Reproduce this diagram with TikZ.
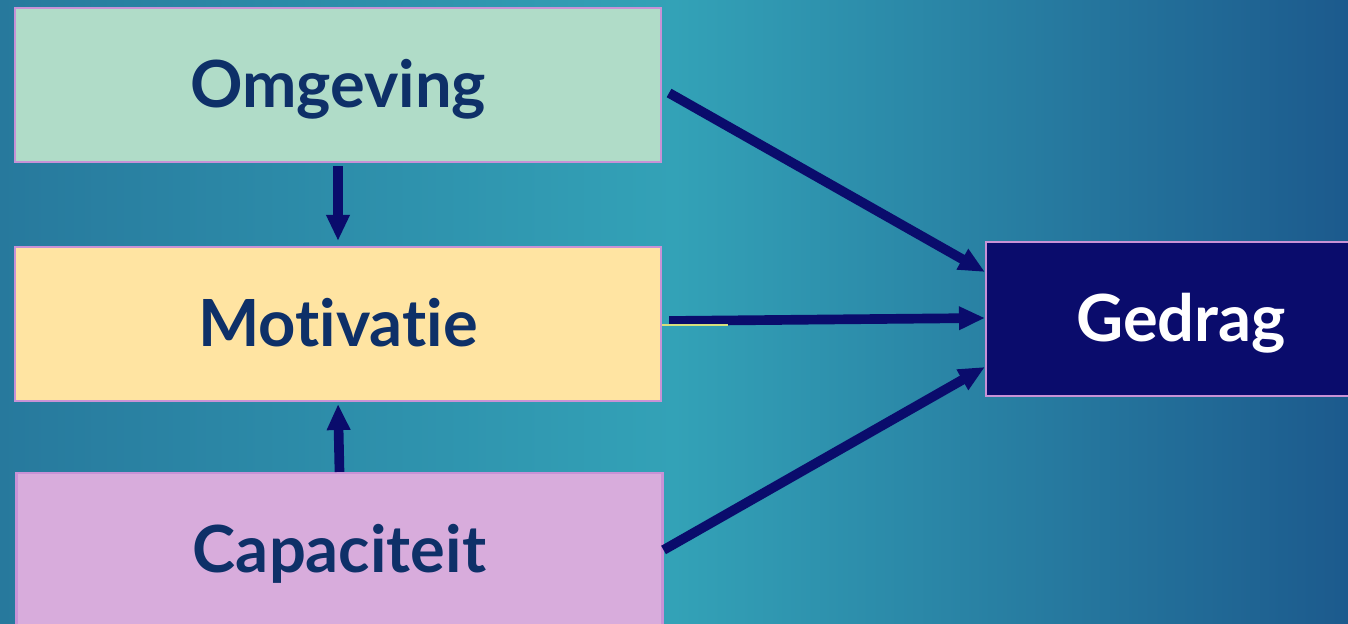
\documentclass[tikz,border=0pt]{standalone}
\usepackage{fontspec}
\setmainfont{Lato}[Ligatures=NoCommon]
\usetikzlibrary{arrows.meta}
\definecolor{bgleft}{HTML}{27799D}
\definecolor{bgmid}{HTML}{33A2B7}
\definecolor{bgright}{HTML}{1C5A8D}
\definecolor{boxedge}{HTML}{C892D6}
\definecolor{omgfill}{HTML}{B0DCC8}
\definecolor{motfill}{HTML}{FFE4A2}
\definecolor{capfill}{HTML}{D8ACDC}
\definecolor{gedfill}{HTML}{0A0C6C}
\definecolor{labelblue}{HTML}{0E3068}
\definecolor{glint}{HTML}{D6DF7C}

\begin{document}
\begin{tikzpicture}[
    box/.style={draw=boxedge, line width=1.2pt, minimum width=12.92cm, minimum height=3.08cm,
      text height=0.9cm, text depth=0pt,
      text=labelblue, font=\fontsize{37}{40}\selectfont\bfseries},
    arr/.style={draw=gedfill, line width=5.5pt, -{Triangle[length=5.2mm,width=4.4mm]}}
  ]
  % background
  \useasboundingbox (0,0) rectangle (26.96,12.48);
  \clip (0,0) rectangle (26.96,12.48);
  \shade[left color=bgleft, right color=bgright, middle color=bgmid] (0,0) rectangle (26.96,12.48);
  % boxes
  \node[box, fill=omgfill] (omg) at (6.76,10.78) {Omgeving};
  \node[box, fill=motfill] (mot) at (6.76,6.0) {Motivatie};
  \node[box, fill=capfill] (cap) at (6.79,1.48) {Capaciteit};
  \node[box, fill=gedfill, text=white, minimum width=7.8cm] (ged) at (23.62,6.1) {Gedrag};
  % arrows
  \draw[arr, shorten <=0.06cm, shorten >=0.1cm] (omg.south) -- (mot.north);
  \draw[arr, shorten >=0.04cm] (cap.north) -- (mot.south);
  \draw[arr] ([xshift=0.14cm,yshift=-0.16cm]omg.east) -- ([yshift=0.94cm]ged.west);
  \draw[arr] ([xshift=0.14cm,yshift=0.06cm]mot.east) -- ([yshift=0.02cm]ged.west);
  \draw[arr] (cap.east) -- ([yshift=-0.96cm]ged.west);
  % thin line
  \coordinate (glintend) at ([xshift=1.32cm,yshift=-0.02cm]mot.east);
  \draw[glint, line width=0.8pt] ([yshift=-0.02cm]mot.east) -- (glintend);
\end{tikzpicture}
\end{document}
